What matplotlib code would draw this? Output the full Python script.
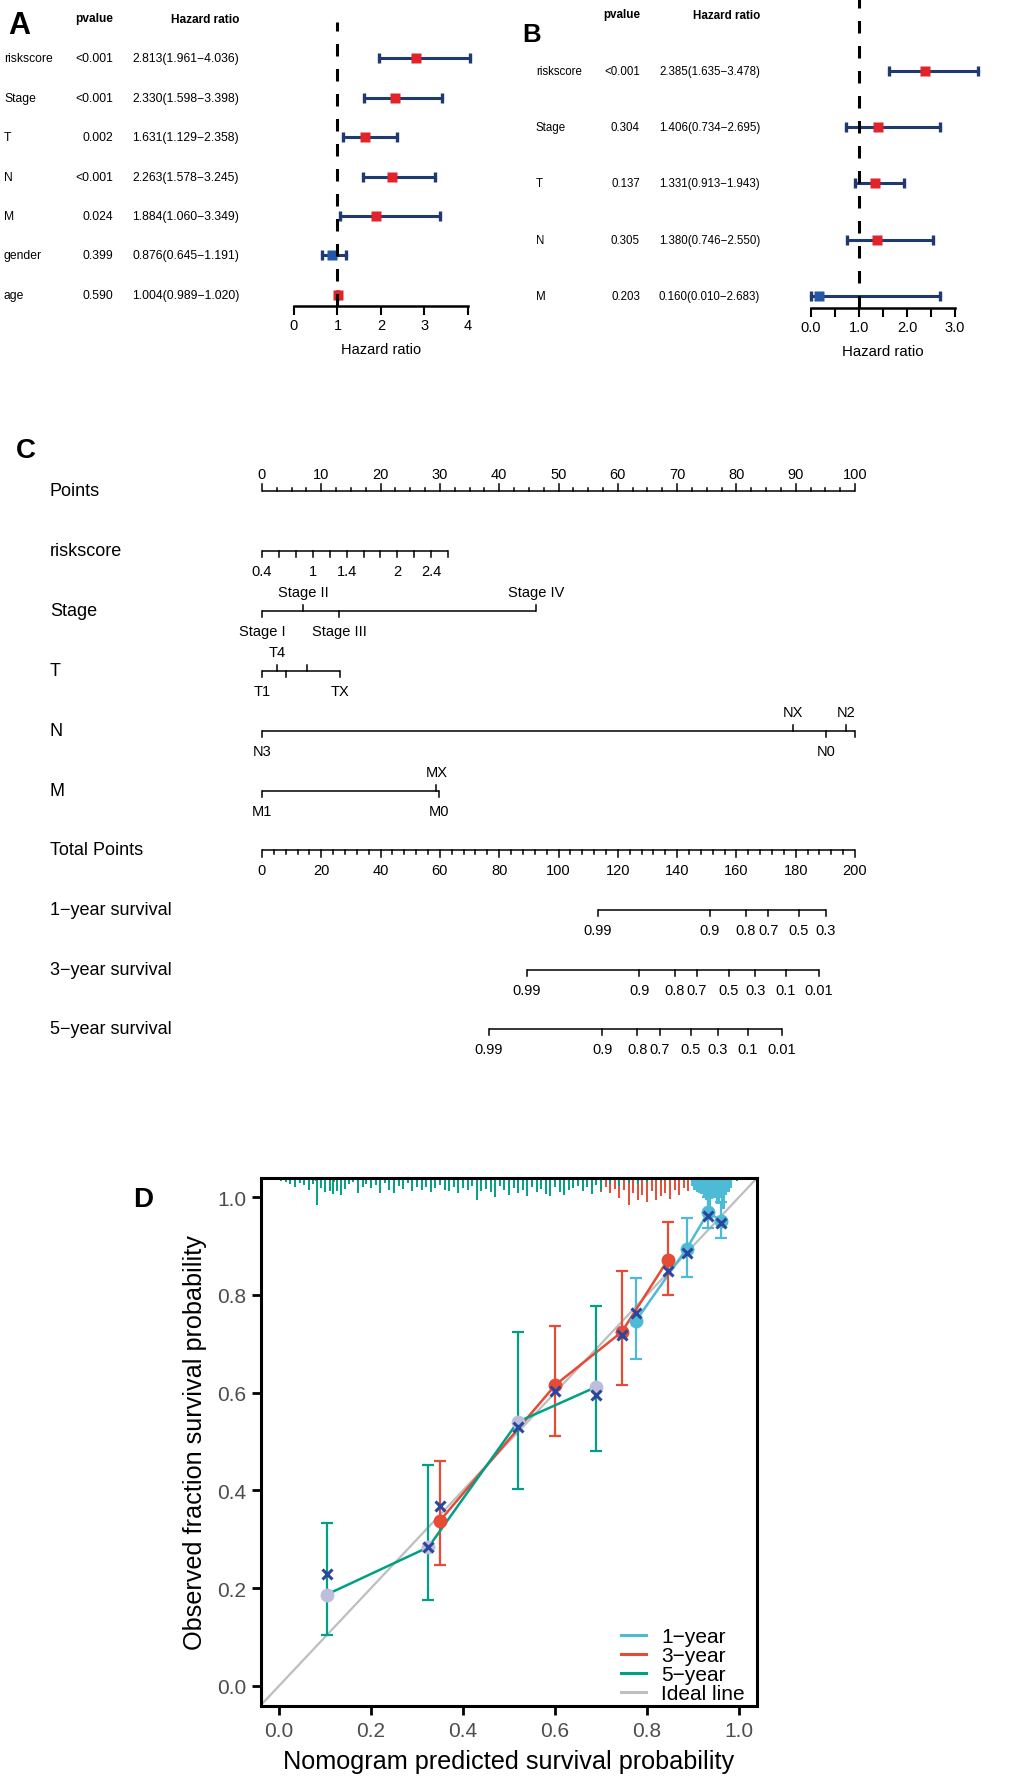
import matplotlib
matplotlib.use("Agg")  # headless
import matplotlib.pyplot as plt  # noqa: E402
import numpy as np  # noqa: E402
from matplotlib.lines import Line2D  # noqa: E402
from matplotlib.transforms import blended_transform_factory  # noqa: E402

W, H, DPI = 1020, 1783, 100

plt.rcParams["font.family"] = ["Liberation Sans", "DejaVu Sans"]
plt.rcParams["lines.scale_dashes"] = False

# ---------------------------------------------------------------- Panel A data
A_VARS = ["riskscore", "Stage", "T", "N", "M", "gender", "age"]
A_PVAL = ["<0.001", "<0.001", "0.002", "<0.001", "0.024", "0.399", "0.590"]
A_HR = [2.813, 2.330, 1.631, 2.263, 1.884, 0.876, 1.004]
A_LO = [1.961, 1.598, 1.129, 1.578, 1.060, 0.645, 0.989]
A_HI = [4.036, 3.398, 2.358, 3.245, 3.349, 1.191, 1.020]
A_TICKS = [0, 1, 2, 3, 4]
A_TICKLABELS = ["0", "1", "2", "3", "4"]

# ---------------------------------------------------------------- Panel B data
B_VARS = ["riskscore", "Stage", "T", "N", "M"]
B_PVAL = ["<0.001", "0.304", "0.137", "0.305", "0.203"]
B_HR = [2.385, 1.406, 1.331, 1.380, 0.160]
B_LO = [1.635, 0.734, 0.913, 0.746, 0.010]
B_HI = [3.478, 2.695, 1.943, 2.550, 2.683]
B_TICKS = [0.0, 0.5, 1.0, 1.5, 2.0, 2.5, 3.0]
B_TICKLABELS = ["0.0", "", "1.0", "", "2.0", "", "3.0"]

# ---------------------------------------------------------------- Panel C data (nomogram)
POINTS_MAJOR = [0, 10, 20, 30, 40, 50, 60, 70, 80, 90, 100]
RISK_VALUES = [0.4, 0.6, 0.8, 1.0, 1.2, 1.4, 1.6, 1.8, 2.0, 2.2, 2.4, 2.6]
RISK_LABELED = [0.4, 1.0, 1.4, 2.0, 2.4]
RISK_POINTS_AT_MAX = 31.4  # points for riskscore 2.6 (0.4 -> 0 points)
STAGE_LEVELS = ["Stage I", "Stage II", "Stage III", "Stage IV"]
STAGE_POINTS = [0, 6.9, 13.0, 46.2]
STAGE_SIDE = ["down", "up", "down", "up"]
T_LEVELS = ["T1", "T4", "T2", "T3", "TX"]
T_POINTS = [0, 2.5, 4.0, 7.6, 13.1]
T_SIDE = ["down", "up", "down", "up", "down"]
T_SHOWN = [True, True, False, False, True]
N_LEVELS = ["N3", "NX", "N0", "N2", "N1"]
N_POINTS = [0, 89.5, 95.1, 98.5, 100]
N_SIDE = ["down", "up", "down", "up", "down"]
N_SHOWN = [True, True, True, True, False]
M_LEVELS = ["M1", "MX", "M0"]
M_POINTS = [0, 29.4, 29.9]
M_SIDE = ["down", "up", "down"]
TOTAL_MAJOR = [0, 20, 40, 60, 80, 100, 120, 140, 160, 180, 200]
SURV1_LABELS = ["0.99", "0.9", "0.8", "0.7", "0.5", "0.3"]
SURV1_TOTAL = [113.3, 151.1, 163.2, 170.7, 181.1, 190.2]
SURV3_LABELS = ["0.99", "0.9", "0.8", "0.7", "0.5", "0.3", "0.1", "0.01"]
SURV3_TOTAL = [89.4, 127.2, 139.3, 146.7, 157.5, 166.3, 176.7, 187.9]
SURV5_LABELS = ["0.99", "0.9", "0.8", "0.7", "0.5", "0.3", "0.1", "0.01"]
SURV5_TOTAL = [76.6, 114.7, 126.5, 134.2, 144.7, 153.8, 163.9, 175.4]

# ---------------------------------------------------------------- Panel D data (calibration)
CAL_NAMES = ["1\u2212year", "3\u2212year", "5\u2212year"]
Y1_PRED = [0.775, 0.886, 0.933, 0.961]
Y1_OBS = [0.746, 0.894, 0.969, 0.951]
Y1_LO = [0.669, 0.836, 0.937, 0.916]
Y1_HI = [0.834, 0.957, 1.000, 0.990]
Y1_CORR = [0.763, 0.885, 0.961, 0.947]
Y3_PRED = [0.349, 0.601, 0.745, 0.845]
Y3_OBS = [0.337, 0.616, 0.724, 0.871]
Y3_LO = [0.247, 0.511, 0.616, 0.800]
Y3_HI = [0.460, 0.736, 0.849, 0.949]
Y3_CORR = [0.368, 0.604, 0.718, 0.849]
Y5_PRED = [0.104, 0.325, 0.519, 0.688]
Y5_OBS = [0.187, 0.284, 0.540, 0.611]
Y5_LO = [0.104, 0.176, 0.403, 0.481]
Y5_HI = [0.333, 0.452, 0.724, 0.777]
Y5_CORR = [0.229, 0.284, 0.530, 0.595]

# rug / spike histogram of predicted probabilities (x position, spike height)
RUG5_X = [0.005, 0.015, 0.025, 0.035, 0.045, 0.055, 0.065, 0.075, 0.082, 0.092,
          0.100, 0.110, 0.118, 0.127, 0.135, 0.143, 0.152, 0.160, 0.172, 0.182,
          0.190, 0.200, 0.210, 0.220, 0.230, 0.240, 0.250, 0.260, 0.270, 0.280,
          0.290, 0.300, 0.310, 0.320, 0.330, 0.340, 0.350, 0.360, 0.370, 0.380,
          0.390, 0.400, 0.410, 0.420, 0.430, 0.440, 0.450, 0.460, 0.470, 0.480,
          0.490, 0.500, 0.510, 0.520, 0.530, 0.540, 0.550, 0.560, 0.570, 0.580,
          0.590, 0.600, 0.610, 0.620, 0.630, 0.640, 0.650, 0.660, 0.670, 0.680,
          0.690, 0.700, 0.720, 0.740, 0.760, 0.780, 0.800, 0.830, 0.995]
RUG5_N = [3, 4, 6, 9, 5, 7, 12, 6, 27, 10,
          14, 13, 16, 13, 17, 11, 6, 4, 15, 9,
          6, 10, 7, 15, 5, 12, 15, 8, 11, 5,
          13, 9, 12, 9, 14, 10, 7, 12, 13, 9,
          15, 10, 12, 8, 22, 13, 11, 14, 19, 8,
          12, 17, 10, 15, 12, 18, 9, 14, 11, 16,
          18, 9, 14, 17, 12, 10, 8, 13, 9, 16,
          7, 12, 6, 8, 5, 6, 4, 3, 3]
RUG3_X = [0.08, 0.12, 0.20, 0.30, 0.33, 0.40, 0.46, 0.50, 0.55, 0.60,
          0.62, 0.64, 0.66, 0.68, 0.70, 0.71, 0.72, 0.73, 0.74, 0.75,
          0.76, 0.77, 0.78, 0.79, 0.80, 0.81, 0.82, 0.83, 0.84, 0.85,
          0.86, 0.87, 0.88, 0.89, 0.90]
RUG3_N = [3, 4, 3, 4, 10, 4, 6, 5, 7, 6,
          9, 8, 12, 10, 14, 9, 15, 11, 20, 12,
          27, 15, 22, 17, 24, 13, 22, 18, 15, 21,
          12, 17, 10, 13, 8]
RUG1_X = [0.900, 0.905, 0.910, 0.915, 0.920, 0.925, 0.930, 0.935, 0.940,
          0.945, 0.950, 0.955, 0.960, 0.965, 0.970, 0.975, 0.980]
RUG1_N = [8, 12, 14, 15, 16, 18, 22, 30, 21, 19, 20, 26, 20, 31, 17, 14, 10]

D_TICKS = [0.0, 0.2, 0.4, 0.6, 0.8, 1.0]

# ---------------------------------------------------------------- styles
NAVY = "#1E3A6E"
BOX_RED = "#E3232A"
BOX_BLUE = "#2457A6"
C_1Y = "#4DBBD5"
C_3Y = "#E64B35"
C_5Y = "#00A087"
C_LILAC = "#BFBDDD"
C_X = "#2A479C"
C_IDEAL = "#BEBEBE"


def fx(px):
    return px / W


def fy(py):
    return 1 - py / H


def px_axes(fig, left, top, right, bottom):
    return fig.add_axes([left / W, 1 - bottom / H, (right - left) / W, (bottom - top) / H])


def forest(fig, box, ylim, xlim, names, pvals, hr, lo, hi, ticks, ticklabels,
           col_x, fs, dash_top):
    ax = px_axes(fig, *box)
    ax.set_xlim(xlim)
    ax.set_ylim(ylim)
    for s in ["top", "right", "left"]:
        ax.spines[s].set_visible(False)
    ax.spines["bottom"].set_linewidth(1.8)
    ax.spines["bottom"].set_bounds(xlim[0], xlim[1])
    ax.set_yticks([])
    ax.set_xticks(ticks)
    ax.set_xticklabels(ticklabels)
    ax.tick_params(axis="x", direction="out", length=6.5, width=1.5, labelsize=10.5, pad=2)
    ax.patch.set_alpha(0)

    n = len(names)
    ys = [n - i for i in range(n)]
    trans = blended_transform_factory(fig.transFigure, ax.transData)
    for y, name, p, h, l, u in zip(ys, names, pvals, hr, lo, hi):
        ax.text(fx(col_x[0]), y, name, transform=trans, ha="left", va="center", fontsize=fs)
        ax.text(fx(col_x[1]), y, p, transform=trans, ha="right", va="center", fontsize=fs)
        ax.text(fx(col_x[2]), y, f"{h:.3f}({l:.3f}\u2212{u:.3f})", transform=trans,
                ha="right", va="center", fontsize=fs)
        ax.plot([l, u], [y, y], color=NAVY, lw=2.2, clip_on=False, zorder=3)
        ax.plot([l, u], [y, y], ls="none", marker="|", ms=7, mew=2.4, color=NAVY,
                clip_on=False, zorder=3)
        ax.plot(h, y, marker="s", ms=6.5, color=BOX_RED if h >= 1 else BOX_BLUE,
                mec="none", clip_on=False, zorder=4)
    ax.plot([1, 1], [ylim[0], dash_top], color="black", lw=2.2, dashes=(9, 9),
            clip_on=False, zorder=5)
    return ax


def nomo_row(ax, y, pts, labels, sides, shown=None, tick=6, fs=10.5):
    ax.plot([min(pts), max(pts)], [y, y], color="black", lw=1.1, clip_on=False,
            solid_capstyle="butt")
    if shown is None:
        shown = [True] * len(pts)
    for p, lab, s, show in zip(pts, labels, sides, shown):
        d = -tick if s == "up" else tick
        ax.plot([p, p], [y, y + d], color="black", lw=1.1, clip_on=False)
        if show:
            off = -19 if s == "up" else 20
            ax.text(p, y + off, lab, ha="center", va="center", fontsize=fs)


fig = plt.figure(figsize=(W / DPI, H / DPI), dpi=DPI)

# ---------------------------------------------------------------- A
forest(fig, (294, 20, 468, 307), (0.713, 8.0), (0, 4), A_VARS, A_PVAL, A_HR, A_LO, A_HI,
       A_TICKS, A_TICKLABELS, (4, 113, 239), 8.7, 7.92)
fig.text(fx(8), fy(26), "A", fontsize=22, fontweight="bold", va="center")
fig.text(fx(113), fy(19), "pvalue", fontsize=8.6, fontweight="bold", ha="right", va="center")
fig.text(fx(239), fy(20), "Hazard ratio", fontsize=8.6, fontweight="bold", ha="right",
         va="center")
fig.text(fx(381), fy(350), "Hazard ratio", fontsize=10.5, ha="center", va="center")

# ---------------------------------------------------------------- B
forest(fig, (811, 0, 955, 309), (0.793, 6.27), (0, 3), B_VARS, B_PVAL, B_HR, B_LO, B_HI,
       B_TICKS, B_TICKLABELS, (536, 640, 760), 8.3, 6.27)
fig.text(fx(522), fy(35), "B", fontsize=18.5, fontweight="bold", va="center")
fig.text(fx(640), fy(15), "pvalue", fontsize=8.4, fontweight="bold", ha="right", va="center")
fig.text(fx(760), fy(16), "Hazard ratio", fontsize=8.4, fontweight="bold", ha="right",
         va="center")
fig.text(fx(883), fy(352), "Hazard ratio", fontsize=10.8, ha="center", va="center")

# ---------------------------------------------------------------- C
axc = px_axes(fig, 262, 430, 855, 1060)
axc.set_xlim(0, 100)
axc.set_ylim(1060, 430)
axc.axis("off")
fig.text(fx(16), fy(451), "C", fontsize=20, fontweight="bold", va="center")

ROW_Y = {"Points": 492, "riskscore": 552, "Stage": 612, "T": 672, "N": 732, "M": 792,
         "Total Points": 851, "1\u2212year survival": 911, "3\u2212year survival": 971,
         "5\u2212year survival": 1030}
for lab, y in ROW_Y.items():
    fig.text(fx(50), fy(y), lab, fontsize=13, va="center")

# Points scale
y = ROW_Y["Points"]
axc.plot([0, 100], [y, y], color="black", lw=1.1, clip_on=False, solid_capstyle="butt")
for p in np.arange(0, 100.01, 2.5):
    major = p in POINTS_MAJOR
    axc.plot([p, p], [y, y - (7 if major else 3.5)], color="black", lw=1.1, clip_on=False)
for p in POINTS_MAJOR:
    axc.text(p, y - 17, f"{p}", ha="center", va="center", fontsize=10.5)

# riskscore
risk_pts = [(v - RISK_VALUES[0]) / (RISK_VALUES[-1] - RISK_VALUES[0]) * RISK_POINTS_AT_MAX
            for v in RISK_VALUES]
risk_labels = [f"{v:g}" for v in RISK_VALUES]
risk_shown = [any(abs(v - r) < 1e-9 for r in RISK_LABELED) for v in RISK_VALUES]
nomo_row(axc, ROW_Y["riskscore"], risk_pts, risk_labels, ["down"] * len(risk_pts), risk_shown)
nomo_row(axc, ROW_Y["Stage"], STAGE_POINTS, STAGE_LEVELS, STAGE_SIDE)
nomo_row(axc, ROW_Y["T"], T_POINTS, T_LEVELS, T_SIDE, T_SHOWN)
nomo_row(axc, ROW_Y["N"], N_POINTS, N_LEVELS, N_SIDE, N_SHOWN)
nomo_row(axc, ROW_Y["M"], M_POINTS, M_LEVELS, M_SIDE)

# Total points (0..200 mapped onto the 0..100 points axis)
y = ROW_Y["Total Points"]
axc.plot([0, 100], [y, y], color="black", lw=1.1, clip_on=False, solid_capstyle="butt")
for t in np.arange(0, 200.01, 4):
    major = t in TOTAL_MAJOR
    axc.plot([t / 2, t / 2], [y, y + (7 if major else 3.5)], color="black", lw=1.1,
             clip_on=False)
for t in TOTAL_MAJOR:
    axc.text(t / 2, y + 20, f"{t}", ha="center", va="center", fontsize=10.5)

for key, labels, totals in [("1\u2212year survival", SURV1_LABELS, SURV1_TOTAL),
                            ("3\u2212year survival", SURV3_LABELS, SURV3_TOTAL),
                            ("5\u2212year survival", SURV5_LABELS, SURV5_TOTAL)]:
    nomo_row(axc, ROW_Y[key], [t / 2 for t in totals], labels, ["down"] * len(totals))

# ---------------------------------------------------------------- D
axd = px_axes(fig, 261, 1179, 757, 1707)
axd.set_xlim(-0.039, 1.039)
axd.set_ylim(-0.041, 1.039)
Y_TOP = 1.039
HSCALE = 1.080 / 528

axd.axline((0, 0), (1, 1), color=C_IDEAL, lw=1.6, zorder=1)

axd.vlines(RUG3_X, [Y_TOP - n * HSCALE for n in RUG3_N], Y_TOP, color=C_3Y, lw=1.4, zorder=2)
axd.vlines(RUG5_X, [Y_TOP - n * HSCALE for n in RUG5_N], Y_TOP, color=C_5Y, lw=1.4, zorder=2)
axd.vlines(RUG1_X, [Y_TOP - n * HSCALE for n in RUG1_N], Y_TOP, color=C_1Y, lw=3.0, zorder=2)

series = [(Y1_PRED, Y1_OBS, Y1_LO, Y1_HI, Y1_CORR, C_1Y, C_1Y),
          (Y3_PRED, Y3_OBS, Y3_LO, Y3_HI, Y3_CORR, C_3Y, C_3Y),
          (Y5_PRED, Y5_OBS, Y5_LO, Y5_HI, Y5_CORR, C_5Y, C_LILAC)]
for pred, obs, lo, hi, corr, col, dotcol in series:
    err = [[o - l for o, l in zip(obs, lo)], [h - o for o, h in zip(obs, hi)]]
    axd.errorbar(pred, obs, yerr=err, fmt="none", ecolor=col, elinewidth=1.6, capsize=4.3,
                 capthick=1.6, zorder=3)
    axd.plot(pred, obs, color=col, lw=1.8, zorder=3)
for pred, obs, lo, hi, corr, col, dotcol in series:
    axd.plot(pred, obs, ls="none", marker="o", ms=10, color=dotcol, mec="none", zorder=4)
    axd.plot(pred, corr, ls="none", marker="x", ms=7, mew=2.2, color=C_X, zorder=5)

for s in axd.spines.values():
    s.set_linewidth(2.2)
axd.set_xticks(D_TICKS)
axd.set_yticks(D_TICKS)
axd.set_xticklabels([f"{t:.1f}" for t in D_TICKS])
axd.set_yticklabels([f"{t:.1f}" for t in D_TICKS])
axd.tick_params(direction="out", length=6.5, width=2, labelsize=15, labelcolor="#4D4D4D",
                pad=4)
axd.set_xlabel("Nomogram predicted survival probability", fontsize=18.2, labelpad=7)
axd.set_ylabel("Observed fraction survival probability", fontsize=18.2, labelpad=7)

handles = [Line2D([], [], color=c, lw=2.2) for c in (C_1Y, C_3Y, C_5Y, C_IDEAL)]
axd.legend(handles, CAL_NAMES + ["Ideal line"], loc="lower right",
           bbox_to_anchor=(0.975, 0.005), frameon=False, fontsize=15, handlelength=1.2,
           handletextpad=0.7, labelspacing=0.0, borderpad=0, borderaxespad=0)
fig.text(fx(133), fy(1200), "D", fontsize=20, fontweight="bold", va="center")

fig.savefig("out.png", dpi=DPI)
plt.close(fig)
